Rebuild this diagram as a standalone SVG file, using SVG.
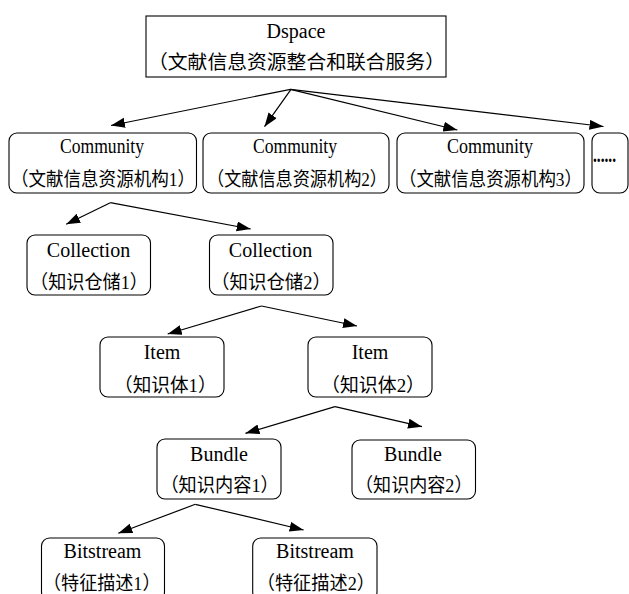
<svg xmlns="http://www.w3.org/2000/svg" width="629" height="594" viewBox="0 0 629 594">
<style>
.box{fill:#fff;stroke:#000;stroke-width:1.1}
.lat{font-family:"Liberation Serif","Times New Roman",serif;font-size:20px;fill:#000}
.cjk{font-family:"Liberation Serif","Noto Sans CJK SC",serif;font-size:19px;fill:#000}
.edge{stroke:#000;stroke-width:1.2;fill:none;marker-end:url(#ah)}
</style>
<defs>
<marker id="ah" markerUnits="userSpaceOnUse" markerWidth="15" markerHeight="11" refX="14" refY="5" orient="auto">
<path d="M0,0 L14,5 L0,10 z" fill="#000"/>
</marker>
</defs>
<rect width="629" height="594" fill="#fff"/>
<g id="connectors">
<line class="edge" x1="290.5" y1="89.3" x2="111" y2="125.5"/>
<line class="edge" x1="291" y1="89.3" x2="264.5" y2="126.7"/>
<line class="edge" x1="290.5" y1="89.3" x2="457.3" y2="130"/>
<line class="edge" x1="290.5" y1="89.3" x2="603.5" y2="126.5"/>
<line class="edge" x1="110.3" y1="202.7" x2="66.2" y2="224.3"/>
<line class="edge" x1="110.3" y1="202.7" x2="250.7" y2="229"/>
<line class="edge" x1="261.5" y1="306" x2="167.7" y2="334"/>
<line class="edge" x1="261.5" y1="306" x2="357" y2="326"/>
<line class="edge" x1="335" y1="406.7" x2="245.5" y2="433.3"/>
<line class="edge" x1="335" y1="406.7" x2="422" y2="426.7"/>
<line class="edge" x1="195.3" y1="504.3" x2="118.3" y2="533.3"/>
<line class="edge" x1="195.3" y1="504.3" x2="303.6" y2="530"/>
</g>
<g id="dspace">
<rect class="box" x="146" y="16" width="300" height="61"/>
<text class="lat" x="296" y="37.5" text-anchor="middle">Dspace</text>
<text class="cjk" x="148" y="68.5" textLength="297" lengthAdjust="spacingAndGlyphs">（文献信息资源整合和联合服务）</text>
</g>
<g id="community1">
<rect class="box" x="9" y="133" width="187.5" height="60" rx="8"/>
<text class="lat" x="60" y="152.5" textLength="84" lengthAdjust="spacingAndGlyphs">Community</text>
<text class="cjk" x="11" y="185.5" textLength="184" lengthAdjust="spacingAndGlyphs">（文献信息资源机构1）</text>
</g>
<g id="community2">
<rect class="box" x="203" y="133" width="186" height="60" rx="8"/>
<text class="lat" x="253" y="152.5" textLength="84" lengthAdjust="spacingAndGlyphs">Community</text>
<text class="cjk" x="207" y="185.5" textLength="180" lengthAdjust="spacingAndGlyphs">（文献信息资源机构2）</text>
</g>
<g id="community3">
<rect class="box" x="397" y="133" width="187" height="60" rx="8"/>
<text class="lat" x="447" y="152.5" textLength="86" lengthAdjust="spacingAndGlyphs">Community</text>
<text class="cjk" x="399" y="185.5" textLength="183" lengthAdjust="spacingAndGlyphs">（文献信息资源机构3）</text>
</g>
<g id="community4">
<rect class="box" x="592" y="133" width="36" height="60" rx="8"/>
<text class="lat" x="593" y="162" font-size="24" font-weight="bold" textLength="23" lengthAdjust="spacingAndGlyphs">......</text>
</g>
<g id="collection1">
<rect class="box" x="27" y="235" width="123.5" height="60" rx="8"/>
<text class="lat" x="88.5" y="256.7" text-anchor="middle">Collection</text>
<text class="cjk" x="30" y="288.5" textLength="118" lengthAdjust="spacingAndGlyphs">（知识仓储1）</text>
</g>
<g id="collection2">
<rect class="box" x="209.5" y="235" width="123.5" height="60" rx="8"/>
<text class="lat" x="270.5" y="256.7" text-anchor="middle">Collection</text>
<text class="cjk" x="211" y="288.5" textLength="120" lengthAdjust="spacingAndGlyphs">（知识仓储2）</text>
</g>
<g id="item1">
<rect class="box" x="100" y="337" width="124" height="60" rx="8"/>
<text class="lat" x="162" y="359.3" text-anchor="middle">Item</text>
<text class="cjk" x="114" y="391.5" textLength="102.6" lengthAdjust="spacingAndGlyphs">（知识体1）</text>
</g>
<g id="item2">
<rect class="box" x="308" y="337" width="124" height="60" rx="8"/>
<text class="lat" x="370" y="359.3" text-anchor="middle">Item</text>
<text class="cjk" x="321" y="391.5" textLength="104" lengthAdjust="spacingAndGlyphs">（知识体2）</text>
</g>
<g id="bundle1">
<rect class="box" x="157" y="439" width="124" height="60" rx="8"/>
<text class="lat" x="219" y="460.5" text-anchor="middle">Bundle</text>
<text class="cjk" x="160.4" y="492" textLength="118.4" lengthAdjust="spacingAndGlyphs">（知识内容1）</text>
</g>
<g id="bundle2">
<rect class="box" x="352" y="440" width="123.5" height="59" rx="8"/>
<text class="lat" x="413" y="460.5" text-anchor="middle">Bundle</text>
<text class="cjk" x="355" y="492" textLength="117.5" lengthAdjust="spacingAndGlyphs">（知识内容2）</text>
</g>
<g id="bitstream1">
<rect class="box" x="41.5" y="538" width="123" height="62" rx="8"/>
<text class="lat" x="102.5" y="558" text-anchor="middle">Bitstream</text>
<text class="cjk" x="43" y="590" textLength="117.5" lengthAdjust="spacingAndGlyphs">（特征描述1）</text>
</g>
<g id="bitstream2">
<rect class="box" x="252.7" y="538" width="124.3" height="62" rx="8"/>
<text class="lat" x="315" y="558" text-anchor="middle">Bitstream</text>
<text class="cjk" x="256.7" y="590" textLength="118.3" lengthAdjust="spacingAndGlyphs">（特征描述2）</text>
</g>
</svg>
